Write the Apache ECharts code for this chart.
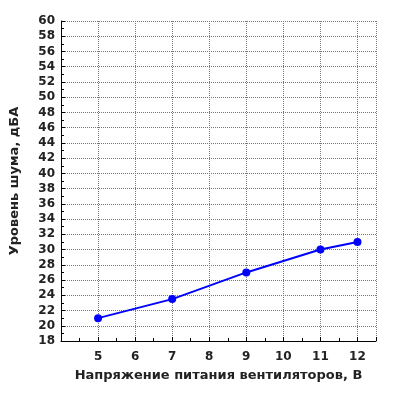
<!DOCTYPE html><html><head><meta charset="utf-8"><script src="https://cdn.jsdelivr.net/npm/echarts@6/dist/echarts.min.js"></script></head><body style="margin:0"><div id="c" style="width:400px;height:400px"></div><script>
var voltages=[5,7,9,11,12];
var noise=[21,23.5,27,30,31];
var ch=echarts.init(document.getElementById('c'));
var font={fontFamily:'DejaVu Sans',fontWeight:'bold',fontSize:12,color:'#222'};
ch.setOption({animation:false,
grid:{left:57,right:24,top:21,bottom:59},
xAxis:{type:'value',min:4,max:12.5,interval:1,name:'Напряжение питания вентиляторов, В',nameLocation:'middle',nameGap:28,nameTextStyle:Object.assign({},font,{fontSize:13}),
axisLine:{lineStyle:{color:'#000'}},axisTick:{inside:true,length:4,lineStyle:{color:'#000'}},minorTick:{show:true,splitNumber:2,length:3,lineStyle:{color:'#000'}},
axisLabel:Object.assign({},font,{margin:10,formatter:function(v){return (v>=5&&v<=12&&v%1===0)?v:'';}}),
splitLine:{show:true,lineStyle:{type:'dotted',color:'#777'}}},
yAxis:{type:'value',min:18,max:60,interval:2,name:'Уровень шума, дБА',nameLocation:'middle',nameGap:40,nameTextStyle:Object.assign({},font,{fontSize:13}),
axisLine:{show:true,lineStyle:{color:'#000'}},axisTick:{inside:true,length:4,lineStyle:{color:'#000'}},minorTick:{show:true,splitNumber:2,length:3,lineStyle:{color:'#000'}},
axisLabel:Object.assign({},font,{margin:6}),
splitLine:{show:true,lineStyle:{type:'dotted',color:'#777'}}},
series:[{type:'line',data:voltages.map(function(v,i){return [v,noise[i]];}),symbol:'circle',symbolSize:8,
lineStyle:{color:'#0000ff',width:2},itemStyle:{color:'#0000ff'}}]});
</script></body></html>
